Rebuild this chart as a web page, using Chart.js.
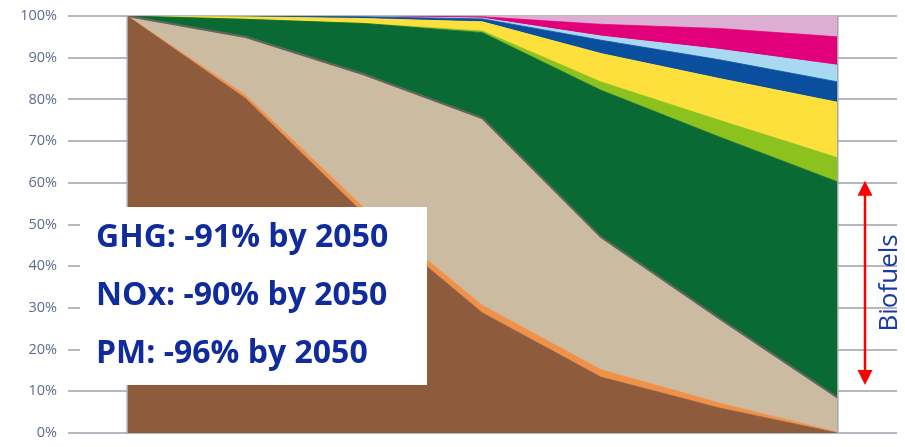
<!DOCTYPE html>
<html>
<head>
<meta charset="utf-8">
<script src="https://cdn.jsdelivr.net/npm/chart.js@4/dist/chart.umd.min.js"></script>
<style>
  body { margin: 0; background: #fff; }
  #wrap { width: 905px; height: 447px; }
</style>
</head>
<body>
<div id="wrap"><canvas id="chart1" width="905" height="447"></canvas></div>
<script>
"use strict";

// data (shares of fleet energy, %), bottom layer first
var categories = ['2020', '2025', '2030', '2035', '2040', '2045', '2050'];
var brown      = [100, 80.2, 52.5, 28.8, 13.4, 6.0, 0];
var orange     = [0, 0.8, 1.5, 1.8, 1.8, 1.2, 0.2];
var beige      = [0, 14.0, 32.0, 44.9, 31.8, 20.3, 8.3];
var darkGreen  = [0, 4.2, 12.2, 20.5, 35.2, 43.5, 51.7];
var lightGreen = [0, 0, 0, 0.4, 2.0, 4.0, 5.8];
var yellow     = [0, 0.6, 1.2, 2.2, 6.8, 10.0, 13.3];
var darkBlue   = [0, 0.2, 0.4, 0.7, 3.2, 4.5, 4.9];
var lightBlue  = [0, 0, 0.1, 0.2, 1.0, 2.5, 4.0];
var magenta    = [0, 0, 0.1, 0.3, 2.8, 5.0, 6.8];
var pink       = [0, 0, 0, 0.2, 2.0, 3.0, 5.0];
var yTicks     = [0, 10, 20, 30, 40, 50, 60, 70, 80, 90, 100];

var notes = ['GHG: -91% by 2050', 'NOx: -90% by 2050', 'PM: -96% by 2050'];
var biofuelsLabel = 'Biofuels';
var biofuelsRange = [60.5, 11.5];

function layer(data, color, border) {
  return {
    data: data,
    backgroundColor: color,
    borderColor: border || color,
    borderWidth: border ? 2.2 : 0.8,
    fill: '-1',
    pointRadius: 0,
    pointHoverRadius: 0,
    tension: 0
  };
}

var sets = [
  layer(brown, '#8e5c3c'),
  layer(orange, '#f0914a'),
  layer(beige, '#cbbca1', '#5f675c'),
  layer(darkGreen, '#0a6a34'),
  layer(lightGreen, '#8cc21e'),
  layer(yellow, '#fde03c'),
  layer(darkBlue, '#0a4f9e'),
  layer(lightBlue, '#a8d8f2'),
  layer(magenta, '#e2007a'),
  layer(pink, '#dcaed2')
];
sets[0].fill = 'origin';

// overlays: edge lines, note box, biofuels arrow
var overlay = {
  id: 'overlay',
  afterDatasetsDraw: function (chart) {
    var ctx = chart.ctx;
    var x = chart.scales.x, y = chart.scales.y;
    ctx.save();

    // vertical edges of the area
    ctx.strokeStyle = '#a3a7ac';
    ctx.lineWidth = 1.5;
    [0, categories.length - 1].forEach(function (i) {
      var px = x.getPixelForValue(i);
      ctx.beginPath();
      ctx.moveTo(px, y.getPixelForValue(100));
      ctx.lineTo(px, y.getPixelForValue(0));
      ctx.stroke();
    });

    // white note box
    ctx.fillStyle = '#ffffff';
    ctx.fillRect(80, 207, 347, 178);
    ctx.fillStyle = '#102c9c';
    ctx.font = 'bold 32px "Open Sans"';
    ctx.textAlign = 'left';
    ctx.textBaseline = 'alphabetic';
    notes.forEach(function (t, i) {
      ctx.fillText(t, 96, 247 + i * 58);
    });

    // red double arrow
    var ax = 865;
    var top = y.getPixelForValue(biofuelsRange[0]);
    var bot = y.getPixelForValue(biofuelsRange[1]);
    ctx.strokeStyle = '#ff0000';
    ctx.fillStyle = '#ff0000';
    ctx.lineWidth = 2.5;
    ctx.beginPath();
    ctx.moveTo(ax, top + 10);
    ctx.lineTo(ax, bot - 10);
    ctx.stroke();
    ctx.beginPath();
    ctx.moveTo(ax, top);
    ctx.lineTo(ax - 7.5, top + 15);
    ctx.lineTo(ax + 7.5, top + 15);
    ctx.closePath();
    ctx.fill();
    ctx.beginPath();
    ctx.moveTo(ax, bot);
    ctx.lineTo(ax - 7.5, bot - 15);
    ctx.lineTo(ax + 7.5, bot - 15);
    ctx.closePath();
    ctx.fill();

    // rotated label
    ctx.translate(890, (top + bot) / 2);
    ctx.rotate(-Math.PI / 2);
    ctx.fillStyle = '#1a3aa6';
    ctx.font = '26px "Open Sans"';
    ctx.textAlign = 'center';
    ctx.textBaseline = 'middle';
    ctx.fillText(biofuelsLabel, 0, 0);
    ctx.restore();
  }
};

var ctx = document.getElementById('chart1').getContext('2d');
var myChart = new Chart(ctx, {
  type: 'line',
  data: { labels: categories, datasets: sets },
  plugins: [overlay],
  options: {
    responsive: false,
    animation: false,
    layout: { autoPadding: false, padding: { top: 16, bottom: 14, left: 0, right: 8 } },
    plugins: {
      legend: { display: false },
      tooltip: { enabled: false }
    },
    scales: {
      x: {
        display: false,
        offset: true
      },
      y: {
        stacked: true,
        min: 0,
        max: 100,
        afterBuildTicks: function (scale) {
          scale.ticks = yTicks.map(function (v) { return { value: v }; });
        },
        afterFit: function (scale) {
          scale.width = 68;
          scale.paddingTop = 0;
          scale.paddingBottom = 0;
        },
        border: { display: false },
        grid: { color: '#b4b8c0', lineWidth: 2, drawTicks: false },
        ticks: {
          padding: 11,
          color: '#5d6d8f',
          font: { family: '"Open Sans"', size: 14.5 },
          callback: function (v) { return v + '%'; }
        }
      }
    }
  }
});
</script>
</body>
</html>
